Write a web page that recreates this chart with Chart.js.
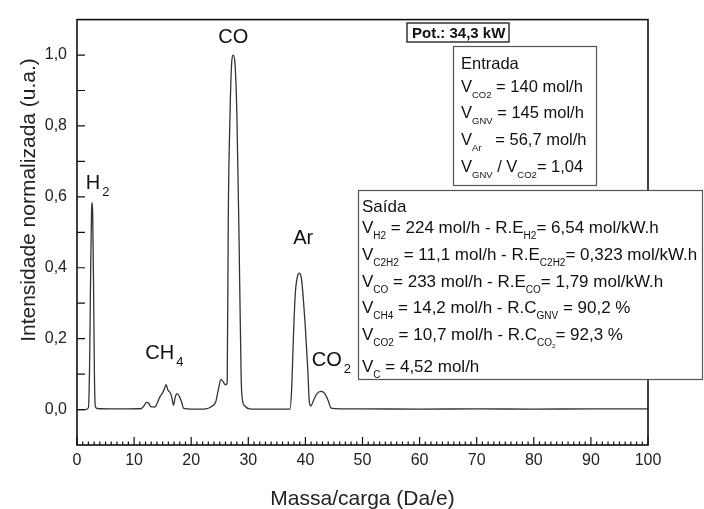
<!DOCTYPE html>
<html><head><meta charset="utf-8">
<script src="https://cdn.jsdelivr.net/npm/chart.js@4.4.1/dist/chart.umd.min.js"></script>
<style>html,body{margin:0;padding:0;background:#fff;}#wrap{width:704px;height:509px;position:relative;}</style>
</head><body><div id="wrap"><canvas id="c" width="704" height="509"></canvas></div>
<script>
// ---- data ----
const massaCarga = [0,1.5,2.0,2.2,2.4,2.55,2.65,2.75,2.9,3.05,3.2,3.5,6,9,11.3,11.7,12.2,12.6,12.9,13.6,14.1,14.5,14.9,15.3,15.6,15.9,16.3,16.6,16.9,17.2,17.5,17.9,18.3,18.7,20,22.5,23.5,24.3,24.8,25.2,25.6,26.0,26.3,26.5,26.8,27.1,27.35,27.65,28.0,28.4,28.75,28.95,29.4,30.2,33,37.3,37.6,37.85,38.2,38.6,38.95,39.3,39.6,39.96,40.4,40.7,40.95,41.4,42.0,42.7,43.4,44.0,44.5,46,50,60,70,80,90,100];
const intensidade = [0,0,0.005,0.12,0.40,0.56,0.584,0.55,0.35,0.10,0.01,0.003,0.002,0.002,0.003,0.010,0.020,0.017,0.008,0.007,0.020,0.035,0.045,0.058,0.070,0.056,0.048,0.035,0.012,0.035,0.045,0.038,0.022,0.003,0.001,0.002,0.008,0.022,0.060,0.085,0.078,0.070,0.075,0.554,0.833,0.981,1.0,0.98,0.833,0.46,0.09,0.03,0.010,0.002,0.001,0.001,0.06,0.18,0.32,0.375,0.385,0.37,0.32,0.24,0.118,0.02,0.010,0.025,0.044,0.051,0.045,0.025,0.004,0.002,0.002,0.001,0.002,0.001,0.002,0.002];
const xTickValues = [0,10,20,30,40,50,60,70,80,90,100];
const yTickValues = [0,0.2,0.4,0.6,0.8,1.0];
const yTickLabels = ['0,0','0,2','0,4','0,6','0,8','1,0'];
const xTitle = 'Massa/carga (Da/e)';
const yTitle = 'Intensidade normalizada (u.a.)';
// peak labels: text, subscript, data position (x, y) of text baseline
const picoTexto = ['CO','H','CH','Ar','CO'];
const picoSub   = ['','2','4','','2'];
const picoX     = [27.36,1.54,11.96,37.86,41.13];
const picoY     = [1.033,0.621,0.142,0.468,0.1226];
const picoAlign = ['center','left','left','left','left'];
const potencia = 'Pot.: 34,3 kW';
const entrada = [
  [['Entrada']],
  [['V'],['CO2','s'],[' = 140 mol/h']],
  [['V'],['GNV','s'],[' = 145 mol/h']],
  [['V'],['Ar','s'],['   = 56,7 mol/h']],
  [['V'],['GNV','s'],[' / V'],['CO2','s'],['= 1,04']]
];
const saida = [
  [['Saída']],
  [['V'],['H2','s'],[' = 224 mol/h - R.E'],['H2','s'],['= 6,54 mol/kW.h']],
  [['V'],['C2H2','s'],[' = 11,1 mol/h - R.E'],['C2H2','s'],['= 0,323 mol/kW.h']],
  [['V'],['CO','s'],[' = 233 mol/h - R.E'],['CO','s'],['= 1,79 mol/kW.h']],
  [['V'],['CH4','s'],[' = 14,2 mol/h - R.C'],['GNV','s'],[' = 90,2 %']],
  [['V'],['CO2','s'],[' = 10,7 mol/h - R.C'],['CO','s'],['2','ss'],['= 92,3 %']],
  [['V'],['C','s'],[' = 4,52 mol/h']]
];

const FAM = '"Liberation Sans", Arial, sans-serif';

function drawSegs(ctx, segs, x, y, size, subSize) {
  let cx = x;
  for (const [t, kind] of segs) {
    let dy = 0, f = size;
    if (kind === 's') { f = subSize; dy = 5.5; }
    if (kind === 'ss') { f = subSize * 0.6; dy = 8; }
    ctx.font = f + 'px ' + FAM;
    ctx.fillText(t, cx, y + dy);
    cx += ctx.measureText(t).width;
  }
}

const decor = {
  id: 'decor',
  afterDraw(chart) {
    const ctx = chart.ctx, a = chart.chartArea, xs = chart.scales.x, ys = chart.scales.y;
    ctx.save();
    // frame
    ctx.strokeStyle = '#111'; ctx.lineWidth = 1.6;
    ctx.strokeRect(a.left, a.top, a.right - a.left, a.bottom - a.top);
    // inward ticks
    ctx.lineWidth = 1.2;
    ctx.beginPath();
    for (let v = 0; v <= 100; v++) {
      const px = xs.getPixelForValue(v);
      const len = v % 10 === 0 ? 8 : 3.5;
      ctx.moveTo(px, a.bottom); ctx.lineTo(px, a.bottom - len);
    }
    for (let k = 0; k <= 10; k++) {
      const py = ys.getPixelForValue(k / 10);
      ctx.moveTo(a.left, py); ctx.lineTo(a.left + 8, py);
    }
    ctx.stroke();
    // axis titles
    ctx.fillStyle = '#222';
    ctx.font = '21px ' + FAM;
    ctx.textAlign = 'center'; ctx.textBaseline = 'alphabetic';
    ctx.fillText(xTitle, (a.left + a.right) / 2, 505);
    ctx.save();
    ctx.translate(35, 200); ctx.rotate(-Math.PI / 2);
    ctx.fillText(yTitle, 0, 0);
    ctx.restore();
    // peak labels
    ctx.fillStyle = '#111';
    for (let i = 0; i < picoTexto.length; i++) {
      ctx.font = '20px ' + FAM;
      let px = xs.getPixelForValue(picoX[i]);
      const py = ys.getPixelForValue(picoY[i]);
      const w = ctx.measureText(picoTexto[i]).width;
      if (picoAlign[i] === 'center') px -= w / 2;
      ctx.textAlign = 'left';
      ctx.fillText(picoTexto[i], px, py);
      if (picoSub[i]) {
        ctx.font = '13px ' + FAM;
        ctx.fillText(picoSub[i], px + w + 2, py + 7);
      }
    }
    // boxes
    ctx.textAlign = 'left';
    // Pot box
    ctx.fillStyle = '#fff'; ctx.strokeStyle = '#333'; ctx.lineWidth = 1.5;
    ctx.fillRect(407, 23, 102, 19); ctx.strokeRect(407, 23, 102, 19);
    ctx.fillStyle = '#111'; ctx.font = 'bold 15px ' + FAM;
    ctx.fillText(potencia, 412, 38);
    // Entrada box
    ctx.fillStyle = '#fff'; ctx.strokeStyle = '#555'; ctx.lineWidth = 1.2;
    ctx.fillRect(453.5, 46.5, 143, 139); ctx.strokeRect(453.5, 46.5, 143, 139);
    ctx.fillStyle = '#111';
    const eBase = [69, 92, 118, 145, 172];
    entrada.forEach((row, i) => drawSegs(ctx, row, 461, eBase[i], 16.5, 9.5));
    // Saida box
    ctx.fillStyle = '#fff'; ctx.strokeStyle = '#555';
    ctx.fillRect(358.5, 190.5, 344, 189); ctx.strokeRect(358.5, 190.5, 344, 189);
    ctx.fillStyle = '#111';
    const sBase = [212, 233, 260, 287, 313, 340, 372];
    saida.forEach((row, i) => drawSegs(ctx, row, 362, sBase[i], 17, 10));
    ctx.restore();
  }
};

new Chart(document.getElementById('c'), {
  type: 'line',
  data: {
    datasets: [{
      data: massaCarga.map((x, i) => ({ x: x, y: intensidade[i] })),
      borderColor: '#333', borderWidth: 1.3, pointRadius: 0,
      cubicInterpolationMode: 'monotone', fill: false
    }]
  },
  options: {
    responsive: false, animation: false, devicePixelRatio: 1,
    layout: { padding: { top: 14, right: 56, left: 0, bottom: 0 } },
    plugins: { legend: { display: false }, tooltip: { enabled: false } },
    scales: {
      x: {
        type: 'linear', min: 0, max: 100,
        grid: { display: false, drawTicks: false }, border: { display: false },
        afterBuildTicks: s => { s.ticks = xTickValues.map(v => ({ value: v })); },
        afterFit: s => { s.height = 64; },
        ticks: { padding: 6, autoSkip: false, maxRotation: 0, color: '#222',
          font: { family: FAM, size: 16 }, callback: (v, i) => String(xTickValues[i]) }
      },
      y: {
        type: 'linear', min: -0.1, max: 1.1,
        grid: { display: false, drawTicks: false }, border: { display: false },
        afterBuildTicks: s => { s.ticks = yTickValues.map(v => ({ value: v })); },
        afterFit: s => { s.width = 77; },
        ticks: { padding: 10, autoSkip: false, color: '#222',
          font: { family: FAM, size: 16 }, callback: (v, i) => yTickLabels[i] }
      }
    }
  },
  plugins: [decor]
});
</script></body></html>
